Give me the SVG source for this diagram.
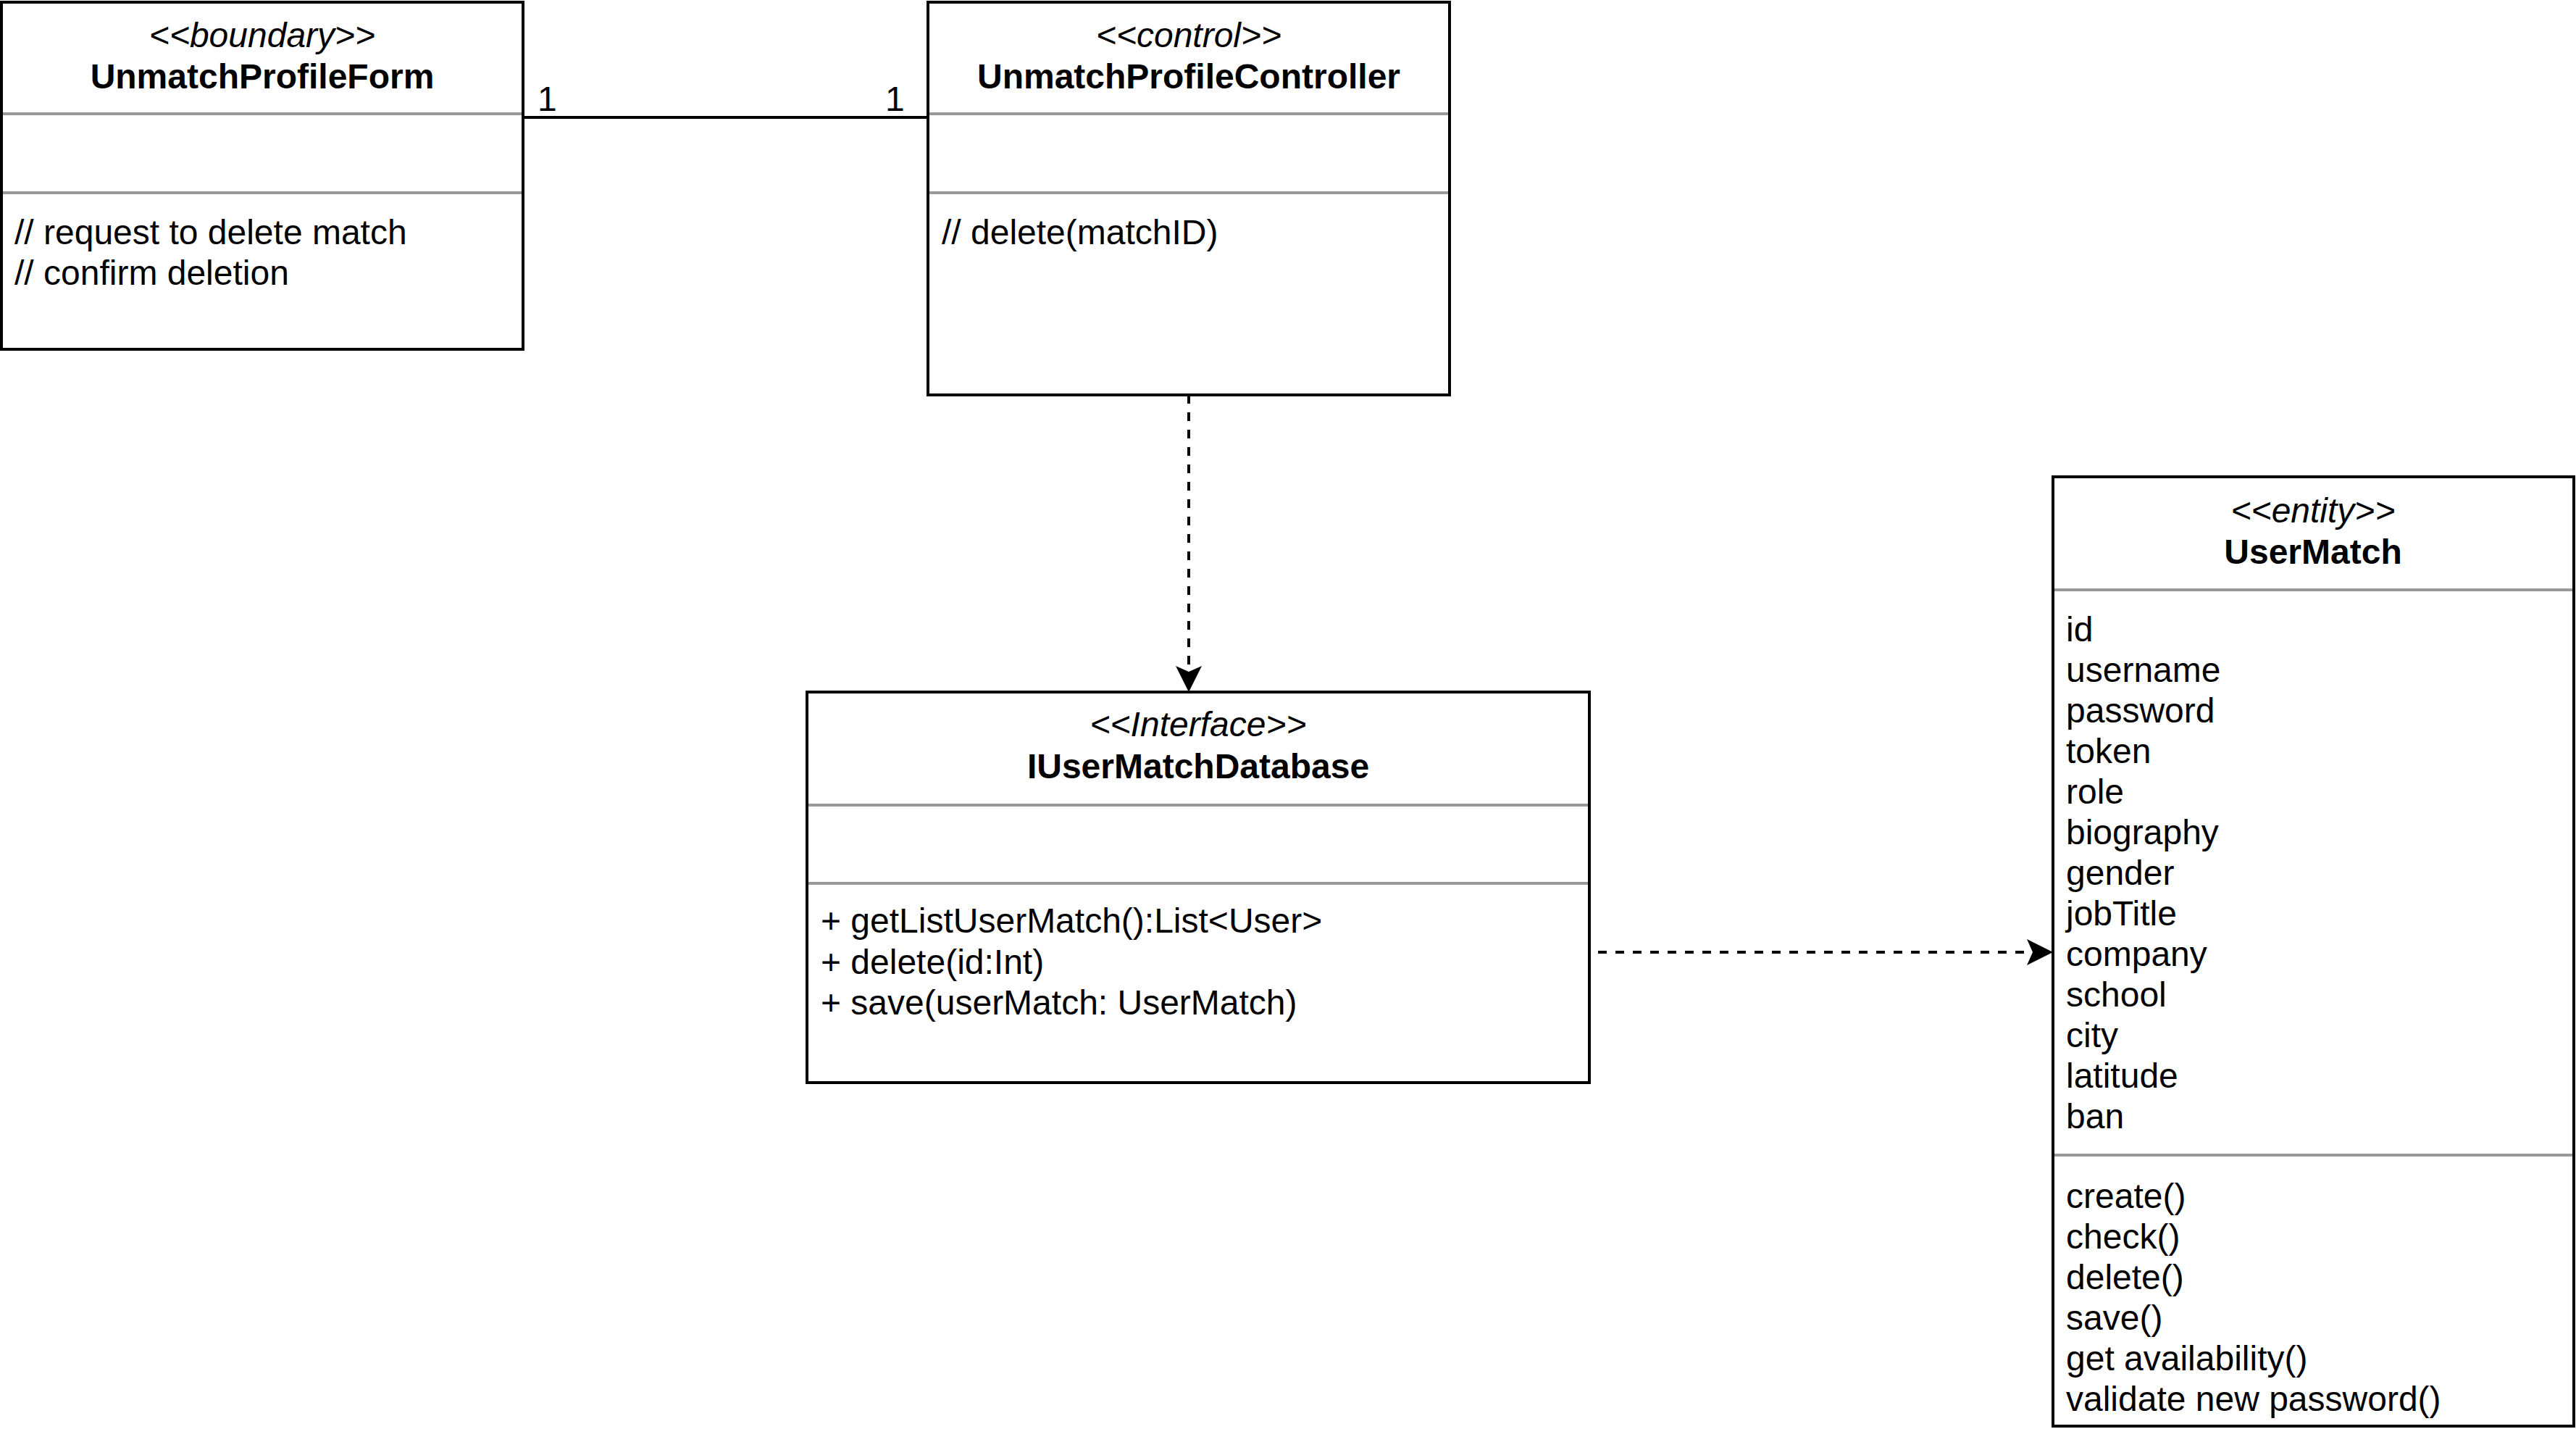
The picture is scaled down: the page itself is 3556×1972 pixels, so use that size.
<svg xmlns="http://www.w3.org/2000/svg" width="3556" height="1972" viewBox="0 0 3556 1972">
<style>
  .box { fill: #ffffff; stroke: #000000; stroke-width: 4; }
  .sep { stroke: #999999; stroke-width: 4; fill: none; }
  text { font-family: "Liberation Sans", Arial, sans-serif; font-size: 48px; fill: #000000; }
  .st { font-style: italic; text-anchor: middle; }
  .nm { font-weight: bold; text-anchor: middle; }
  .conn { stroke: #000000; stroke-width: 4; fill: none; }
  .dash { stroke-dasharray: 12 12; }
</style>
<defs>
  <marker id="arrow" markerUnits="userSpaceOnUse" viewBox="0 0 36 36" refX="8" refY="18" markerWidth="36" markerHeight="36" orient="auto">
    <path d="M0,0 L36,18 L0,36 L8,18 Z" fill="#000000"/>
  </marker>
</defs>
<rect x="0" y="0" width="3556" height="1972" fill="#ffffff"/>

<g id="connectors">
  <line class="conn" x1="722" y1="162" x2="1281" y2="162"/>
  <text x="742" y="153">1</text>
  <text x="1222" y="153">1</text>
  <line class="conn dash" x1="1641" y1="545" x2="1641" y2="927" marker-end="url(#arrow)"/>
  <line class="conn dash" x1="2206" y1="1314" x2="2806" y2="1314" marker-end="url(#arrow)"/>
</g>

<g id="UnmatchProfileForm">
  <rect class="box" x="2" y="3" width="720" height="479"/>
  <text class="st" x="362" y="65">&lt;&lt;boundary&gt;&gt;</text>
  <text class="nm" x="362" y="122">UnmatchProfileForm</text>
  <line class="sep" x1="4" y1="157" x2="720" y2="157"/>
  <line class="sep" x1="4" y1="266" x2="720" y2="266"/>
  <text x="20" y="337">// request to delete match</text>
  <text x="20" y="393">// confirm deletion</text>
</g>

<g id="UnmatchProfileController">
  <rect class="box" x="1281" y="3" width="720" height="542"/>
  <text class="st" x="1641" y="65">&lt;&lt;control&gt;&gt;</text>
  <text class="nm" x="1641" y="122">UnmatchProfileController</text>
  <line class="sep" x1="1283" y1="157" x2="1999" y2="157"/>
  <line class="sep" x1="1283" y1="266" x2="1999" y2="266"/>
  <text x="1300" y="337">// delete(matchID)</text>
</g>

<g id="IUserMatchDatabase">
  <rect class="box" x="1114" y="955" width="1080" height="539"/>
  <text class="st" x="1654" y="1016">&lt;&lt;Interface&gt;&gt;</text>
  <text class="nm" x="1654" y="1074">IUserMatchDatabase</text>
  <line class="sep" x1="1116" y1="1111" x2="2192" y2="1111"/>
  <line class="sep" x1="1116" y1="1219" x2="2192" y2="1219"/>
  <text x="1133" y="1287">+ getListUserMatch():List&lt;User&gt;</text>
  <text x="1133" y="1344">+ delete(id:Int)</text>
  <text x="1133" y="1400">+ save(userMatch: UserMatch)</text>
</g>

<g id="UserMatch">
  <rect class="box" x="2834" y="658" width="719" height="1310"/>
  <text class="st" x="3193" y="721">&lt;&lt;entity&gt;&gt;</text>
  <text class="nm" x="3193" y="778">UserMatch</text>
  <line class="sep" x1="2836" y1="814" x2="3551" y2="814"/>
  <text x="2852" y="885">id</text>
  <text x="2852" y="941">username</text>
  <text x="2852" y="997">password</text>
  <text x="2852" y="1053">token</text>
  <text x="2852" y="1109">role</text>
  <text x="2852" y="1165">biography</text>
  <text x="2852" y="1221">gender</text>
  <text x="2852" y="1277">jobTitle</text>
  <text x="2852" y="1333">company</text>
  <text x="2852" y="1389">school</text>
  <text x="2852" y="1445">city</text>
  <text x="2852" y="1501">latitude</text>
  <text x="2852" y="1557">ban</text>
  <line class="sep" x1="2836" y1="1594" x2="3551" y2="1594"/>
  <text x="2852" y="1667">create()</text>
  <text x="2852" y="1723">check()</text>
  <text x="2852" y="1779">delete()</text>
  <text x="2852" y="1835">save()</text>
  <text x="2852" y="1891">get availability()</text>
  <text x="2852" y="1947">validate new password()</text>
</g>
</svg>
